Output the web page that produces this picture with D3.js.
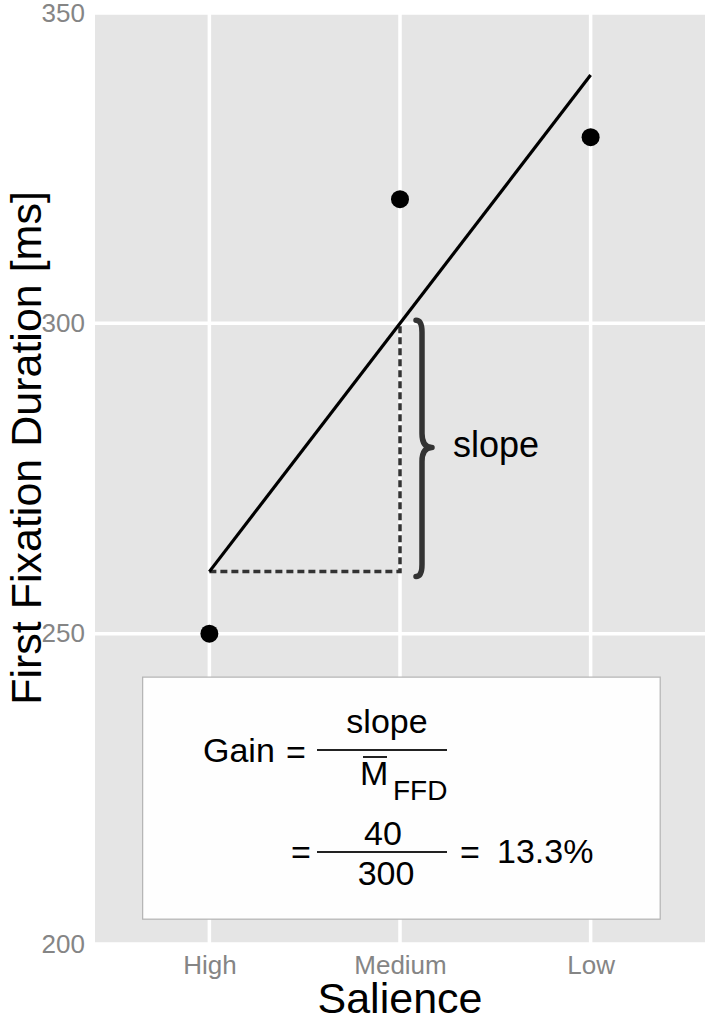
<!DOCTYPE html>
<html>
<head>
<meta charset="utf-8">
<script src="https://cdn.jsdelivr.net/npm/d3@7"></script>
<style>
  body { margin: 0; background: #fff; }
  text { font-family: "Liberation Sans", Arial, Helvetica, sans-serif; }
</style>
</head>
<body>
<div id="chart"></div>
<script>
// data
const categories = ["High", "Medium", "Low"];
const categoryPos = [1, 2, 3];
const meanFFD = [250, 320, 330];
const fitValues = [260, 340];          // fitted line at High and Low
const yTicks = [200, 250, 300, 350];
const slopeValue = 40;
const grandMean = 300;
const gainLabel = "13.3%";

const width = 708;
const height = 1018;

const svg = d3.select("#chart")
    .append("svg")
    .attr("width", width)
    .attr("height", height);

const x = d3.scaleLinear()
    .domain([0.4, 3.6])
    .range([95, 705]);

const y = d3.scaleLinear()
    .domain([200, 350])
    .range([944, 13]);

// panel
svg.append("rect")
    .attr("x", x(0.4))
    .attr("y", y(350))
    .attr("width", x(3.6) - x(0.4))
    .attr("height", y(200) - y(350))
    .attr("fill", "#e5e5e5");

// grid
svg.selectAll(".hgrid")
    .data(yTicks)
    .enter()
    .append("line")
    .attr("class", "hgrid")
    .attr("x1", x(0.4))
    .attr("x2", x(3.6))
    .attr("y1", d => y(d))
    .attr("y2", d => y(d))
    .attr("stroke", "#fff")
    .attr("stroke-width", 3.5);

svg.selectAll(".vgrid")
    .data(categoryPos)
    .enter()
    .append("line")
    .attr("class", "vgrid")
    .attr("x1", d => x(d))
    .attr("x2", d => x(d))
    .attr("y1", y(200))
    .attr("y2", y(350))
    .attr("stroke", "#fff")
    .attr("stroke-width", 3.5);

// axes (labels only)
const yAxis = d3.axisLeft(y).tickValues(yTicks).tickSize(0).tickPadding(10);
const yG = svg.append("g")
    .attr("transform", "translate(" + x(0.4) + ",0)")
    .call(yAxis);

const xAxis = d3.axisBottom(x).tickValues(categoryPos)
    .tickFormat((d, i) => categories[i]).tickSize(0).tickPadding(12);
const xG = svg.append("g")
    .attr("transform", "translate(0," + y(200) + ")")
    .call(xAxis);

[yG, xG].forEach(g => {
    g.select(".domain").remove();
    g.selectAll("text")
        .attr("fill", "#858585")
        .style("font-size", "26px")
        .style("font-family", "'Liberation Sans', Arial, sans-serif");
});

// axis titles
svg.append("text")
    .attr("x", x(2))
    .attr("y", 1013)
    .attr("text-anchor", "middle")
    .style("font-size", "43px")
    .text("Salience");

svg.append("text")
    .attr("transform", "translate(41,448) rotate(-90)")
    .attr("text-anchor", "middle")
    .style("font-size", "43px")
    .text("First Fixation Duration [ms]");

// dashed helper lines
const midFit = (fitValues[0] + fitValues[1]) / 2;
svg.append("path")
    .attr("d", d3.line()([
        [x(1), y(fitValues[0])],
        [x(2), y(fitValues[0])],
        [x(2), y(midFit)]
    ]))
    .attr("fill", "none")
    .attr("stroke", "#333")
    .attr("stroke-width", 3.5)
    .attr("stroke-dasharray", "7,4");

// regression line
svg.append("line")
    .attr("x1", x(1))
    .attr("y1", y(fitValues[0]))
    .attr("x2", x(3))
    .attr("y2", y(fitValues[1]))
    .attr("stroke", "#000")
    .attr("stroke-width", 3.2);

// means
svg.selectAll(".dot")
    .data(meanFFD)
    .enter()
    .append("circle")
    .attr("class", "dot")
    .attr("cx", (d, i) => x(categoryPos[i]))
    .attr("cy", d => y(d))
    .attr("r", 9)
    .attr("fill", "#000");

// brace
const bx = x(2) + 22;
const bTop = y(midFit) - 3;
const bBot = y(fitValues[0]) + 5;
const bMid = y((midFit + fitValues[0]) / 2);
const brace = d3.path();
brace.moveTo(bx - 6, bTop);
brace.quadraticCurveTo(bx, bTop, bx, bTop + 12);
brace.lineTo(bx, bMid - 14);
brace.quadraticCurveTo(bx, bMid, bx + 10, bMid);
brace.quadraticCurveTo(bx, bMid, bx, bMid + 14);
brace.lineTo(bx, bBot - 12);
brace.quadraticCurveTo(bx, bBot, bx - 6, bBot);
svg.append("path")
    .attr("d", brace.toString())
    .attr("fill", "none")
    .attr("stroke", "#333")
    .attr("stroke-width", 5.5)
    .attr("stroke-linecap", "round")
    .attr("stroke-linejoin", "round");

svg.append("text")
    .attr("x", x(2) + 53)
    .attr("y", bMid + 10)
    .style("font-size", "36px")
    .text("slope");

// gain box
const box = svg.append("g");
box.append("rect")
    .attr("x", x(0.65))
    .attr("y", y(243))
    .attr("width", x(3.365) - x(0.65))
    .attr("height", y(204) - y(243))
    .attr("fill", "#fefefe")
    .attr("stroke", "#b3b3b3")
    .attr("stroke-width", 1.2);

const fs = "34px";
function txt(t, tx, ty, anchor, size) {
    box.append("text")
        .attr("x", tx)
        .attr("y", ty)
        .attr("text-anchor", anchor || "start")
        .style("font-size", size || fs)
        .text(t);
}
function bar(x1, x2, yy) {
    box.append("line")
        .attr("x1", x1).attr("x2", x2)
        .attr("y1", yy).attr("y2", yy)
        .attr("stroke", "#222")
        .attr("stroke-width", 2);
}

txt("Gain", 203, 762);
txt("=", 286, 764);
bar(317, 447, 750);
txt("slope", 387, 733, "middle");
txt("M", 360, 785);
bar(363, 387, 757);
txt("FFD", 393, 800, "start", "28px");

txt("=", 291, 864);
bar(317, 447, 852);
txt(String(slopeValue), 383, 845, "middle");
txt(String(grandMean), 386, 885, "middle");
txt("=", 460, 864);
txt(gainLabel, 497, 863);
</script>
</body>
</html>
